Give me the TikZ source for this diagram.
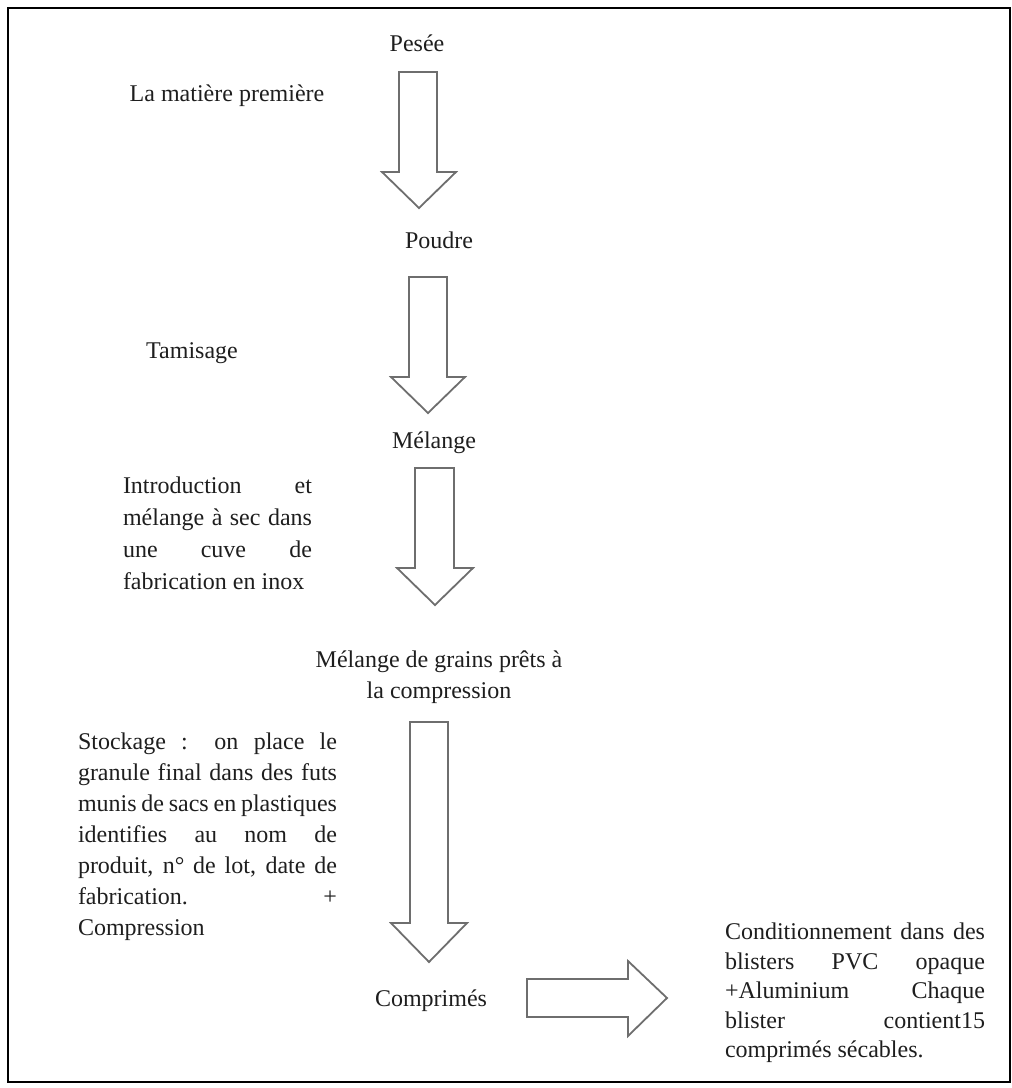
\documentclass[tikz,border=0pt]{standalone}
\usepackage{fontspec}
\setmainfont{Liberation Serif}
\definecolor{txt}{HTML}{1E1E1E}
\definecolor{arrowgray}{HTML}{6E6E6E}
\newcommand{\jline}[2]{\makebox[#1][s]{#2}}
\begin{document}
\begin{tikzpicture}[x=0.5pt,y=-0.5pt,
  lbl/.style={inner sep=0pt, outer sep=0pt, text=txt, font=\fontsize{12}{14}\selectfont},
  para/.style={lbl, align=left, anchor=north west},
  blockarrow/.style={draw=arrowgray, line width=0.9pt, fill=white, line join=miter},
  frame/.style={draw=black, line width=1.3pt}]
\useasboundingbox (0,0) rectangle (1012,1088);
\draw[frame] (8,8) rectangle (1010,1082);

% labels
\node[lbl, anchor=base] (pesee) at (417,51) {Pesée};
\node[lbl, anchor=base] (matiere) at (227,101) {La matière première};
\node[lbl, anchor=base] (poudre) at (439,248) {Poudre};
\node[lbl, anchor=base] (tamisage) at (192,358) {Tamisage};
\node[lbl, anchor=base] (melange) at (434,448) {Mélange};
\node[lbl, align=center, anchor=north, font=\fontsize{12}{15.5}\selectfont] (grains) at (439,651)
  {Mélange de grains prêts à\\la compression};
\node[lbl, anchor=base] (comprimes) at (431,1006) {Comprimés};

\node[para, font=\fontsize{12}{16}\selectfont] (intro) at (123,477)
  {\jline{94.5pt}{Introduction et}\\
   \jline{94.5pt}{mélange à sec dans}\\
   \jline{94.5pt}{une cuve de}\\
   fabrication en inox};

\node[para, font=\fontsize{12}{15.5}\selectfont] (stockage) at (78,733)
  {\jline{129.5pt}{Stockage : on place le}\\
   \jline{129.5pt}{granule final dans des futs}\\
   \jline{129.5pt}{munis de sacs en plastiques}\\
   \jline{129.5pt}{identifies au nom de}\\
   \jline{129.5pt}{produit, n° de lot, date de}\\
   \jline{129.5pt}{fabrication. +}\\
   Compression};

\node[para, font=\fontsize{12}{14.75}\selectfont] (cond) at (725,923)
  {\jline{130pt}{Conditionnement dans des}\\
   \jline{130pt}{blisters PVC opaque}\\
   \jline{130pt}{+Aluminium Chaque}\\
   \jline{130pt}{blister contient15}\\
   comprimés sécables.};

% block arrows
\draw[blockarrow] (399,72) -- (437,72) -- (437,172) -- (456,172) -- (419,208)
  -- (382,172) -- (399,172) -- cycle;
\draw[blockarrow] (409,277) -- (447,277) -- (447,377) -- (465,377) -- (428,413)
  -- (391,377) -- (409,377) -- cycle;
\draw[blockarrow] (415,468) -- (454,468) -- (454,568) -- (473,568) -- (435,605)
  -- (397,568) -- (415,568) -- cycle;
\draw[blockarrow] (410,722) -- (448,722) -- (448,923) -- (467,923) -- (429,962)
  -- (391,923) -- (410,923) -- cycle;
\draw[blockarrow] (527,979) -- (628,979) -- (628,961) -- (667,998) -- (628,1036)
  -- (628,1017) -- (527,1017) -- cycle;
\end{tikzpicture}
\end{document}
